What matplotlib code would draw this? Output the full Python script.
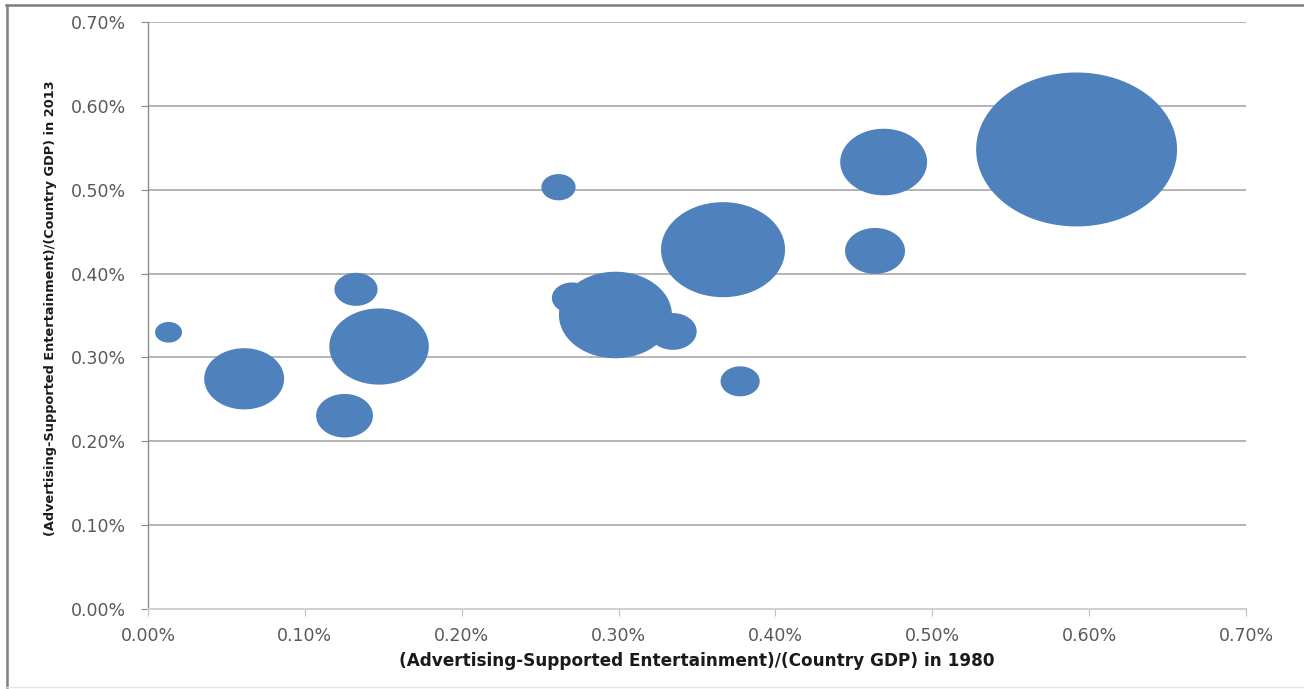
import matplotlib
matplotlib.use("Agg")
import matplotlib.pyplot as plt
import numpy as np
from matplotlib.path import Path
from matplotlib.ticker import FuncFormatter, MultipleLocator
from matplotlib.lines import Line2D

# share of GDP (%) in 1980 and 2013, bubble size = relative market size
share_1980 = [0.592, 0.469, 0.4635, 0.3666, 0.2617, 0.298, 0.2703, 0.3345,
              0.3775, 0.0131, 0.0613, 0.1253, 0.1326, 0.1473]
share_2013 = [0.548, 0.533, 0.427, 0.4285, 0.503, 0.3506, 0.371, 0.331,
              0.2715, 0.330, 0.2745, 0.2305, 0.3812, 0.313]
bubble_size = [100, 18.7, 8.9, 38.1, 2.9, 31.6, 4.0, 5.7,
               3.8, 1.8, 15.8, 8.0, 4.6, 24.5]

x_label = "(Advertising-Supported Entertainment)/(Country GDP) in 1980"
y_label = "(Advertising-Supported Entertainment)/(Country GDP) in 2013"

BLUE = "#4F81BD"

# the source picture is stretched sideways, so bubbles are ellipses
t = np.linspace(0, 2 * np.pi, 100)
ellipse = Path(np.column_stack([np.cos(t), np.sin(t) / 1.305]), closed=True)

fig = plt.figure(figsize=(13.04, 6.89), dpi=100)
ax = fig.add_axes([148 / 1304, 1 - 609 / 689, 1098 / 1304, 587 / 689])

sizes = [s * 209.4 for s in bubble_size]
ax.scatter(share_1980, share_2013, s=sizes, marker=ellipse, color=BLUE,
           linewidths=0, zorder=3)

ax.set_xlim(0, 0.7)
ax.set_ylim(0, 0.7)
ax.xaxis.set_major_locator(MultipleLocator(0.1))
ax.yaxis.set_major_locator(MultipleLocator(0.1))
pct = FuncFormatter(lambda v, _: f"{v:.2f}%")
ax.xaxis.set_major_formatter(pct)
ax.yaxis.set_major_formatter(pct)

ax.grid(axis="y", color="#A0A0A0", linewidth=1.1, zorder=0)
ax.set_axisbelow(True)
for side in ("top", "right"):
    ax.spines[side].set_visible(False)
ax.spines["left"].set_color("#8C8C8C")
ax.spines["bottom"].set_color("#D0D0D0")
ax.spines["left"].set_linewidth(1.0)
ax.spines["bottom"].set_linewidth(1.5)

ax.tick_params(axis="x", length=5, color="#BFBFBF", pad=8,
               labelsize=12.5, labelcolor="#595959")
ax.tick_params(axis="y", length=5, color="#8C8C8C", pad=11,
               labelsize=12.5, labelcolor="#595959")

fig.text(697 / 1304, 1 - 661 / 689, x_label, ha="center", va="center",
         fontsize=12.2, fontweight="bold", color="#1a1a1a")
fig.text(51 / 1304, 1 - 308 / 689, y_label, ha="center", va="center",
         rotation=90, fontsize=9.3, fontweight="bold", color="#1a1a1a")

# outer chart frame
fig.add_artist(Line2D([6 / 1304, 1], [1 - 4.5 / 689] * 2, color="#7F7F7F",
                      linewidth=1.8, transform=fig.transFigure))
fig.add_artist(Line2D([7 / 1304] * 2, [1 - 687 / 689, 1 - 4.5 / 689],
                      color="#7F7F7F", linewidth=1.8, transform=fig.transFigure))
fig.add_artist(Line2D([7 / 1304, 1], [1 - 687 / 689] * 2, color="#E6E6E6",
                      linewidth=1.0, transform=fig.transFigure))

fig.savefig("out.png", dpi=100)
